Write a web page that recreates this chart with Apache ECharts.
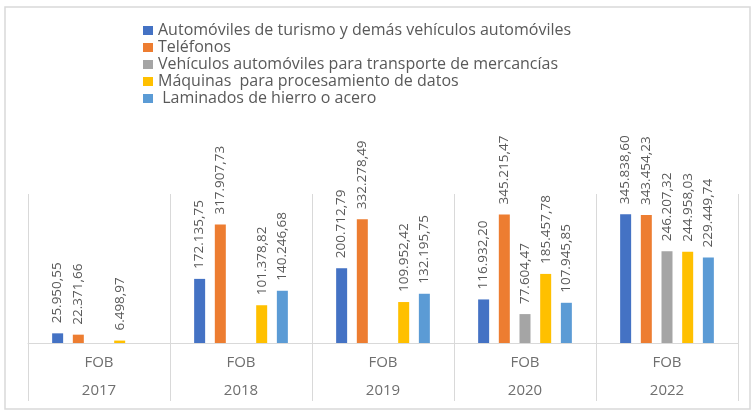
<!DOCTYPE html>
<html>
<head>
<meta charset="utf-8">
<script src="https://cdn.jsdelivr.net/npm/echarts@6/dist/echarts.min.js"></script>
<style>
html,body{margin:0;padding:0;background:#fff;}
#chart{width:751px;height:410px;}
</style>
</head>
<body>
<div id="chart"></div>
<script>
const years = ['2017', '2018', '2019', '2020', '2022'];
const subLabel = 'FOB';
const seriesNames = [
  'Automóviles de turismo y demás vehículos automóviles',
  'Teléfonos',
  'Vehículos automóviles para transporte de mercancías',
  'Máquinas  para procesamiento de datos',
  ' Laminados de hierro o acero'
];
const automoviles = [25950.55, 172135.75, 200712.79, 116932.20, 345838.60];
const telefonos = [22371.66, 317907.73, 332278.49, 345215.47, 343454.23];
const mercancias = [null, null, null, 77604.47, 246207.32];
const maquinas = [6498.97, 101378.82, 109952.42, 185457.78, 244958.03];
const laminados = [null, 140246.68, 132195.75, 107945.85, 229449.74];
const colors = ['#4472C4', '#ED7D31', '#A5A5A5', '#FFC000', '#5B9BD5'];

const FONT = 'Open Sans';
function fmt(v) {
  const parts = v.toFixed(2).split('.');
  return parts[0].replace(/\B(?=(\d{3})+(?!\d))/g, '.') + ',' + parts[1];
}

const dataSets = [automoviles, telefonos, mercancias, maquinas, laminados];
const series = dataSets.map((d, i) => ({
  name: seriesNames[i],
  type: 'bar',
  xAxisIndex: 0,
  data: d,
  barWidth: 11,
  barGap: '88%',
  itemStyle: { color: colors[i] },
  label: {
    show: true,
    position: 'top',
    rotate: 90,
    align: 'left',
    verticalAlign: 'middle',
    distance: 10,
    color: '#595959',
    fontSize: 13.5,
    fontFamily: FONT,
    formatter: p => (p.value == null ? '' : fmt(p.value))
  }
}));

const chart = echarts.init(document.getElementById('chart'), null, { renderer: 'canvas' });
chart.setOption({
  animation: false,
  backgroundColor: '#fff',
  color: colors,
  graphic: [{
    type: 'rect',
    shape: { x: 5, y: 7, width: 745, height: 402 },
    style: { fill: 'none', stroke: '#d9d9d9', lineWidth: 1.5 },
    silent: true
  }],
  legend: {
    orient: 'vertical',
    left: 138,
    top: 17,
    itemWidth: 10,
    itemHeight: 9,
    itemGap: 0,
    icon: 'rect',
    textStyle: { fontSize: 16, fontFamily: FONT, color: '#595959', lineHeight: 17 },
    data: seriesNames
  },
  grid: { left: 28, right: 13, top: 194, bottom: 67 },
  xAxis: [{
    type: 'category',
    data: years,
    position: 'bottom',
    axisLine: { show: true, lineStyle: { color: '#d9d9d9', width: 1 } },
    axisTick: { show: true, inside: true, length: 149, lineStyle: { color: '#d9d9d9', width: 1 } },
    axisLabel: { show: false },
    splitLine: { show: false }
  }, {
    type: 'category',
    data: years,
    position: 'bottom',
    axisLine: { show: false },
    axisTick: { show: true, length: 58, lineStyle: { color: '#d9d9d9', width: 1 } },
    axisLabel: {
      show: true,
      margin: 6,
      fontSize: 15,
      lineHeight: 28,
      fontFamily: FONT,
      color: '#6f6f6f',
      formatter: v => subLabel + '\n' + v
    },
    splitLine: { show: false }
  }],
  yAxis: {
    type: 'value',
    min: 0,
    max: 400000,
    show: false,
    splitLine: { show: false }
  },
  series: series
});
</script>
</body>
</html>
